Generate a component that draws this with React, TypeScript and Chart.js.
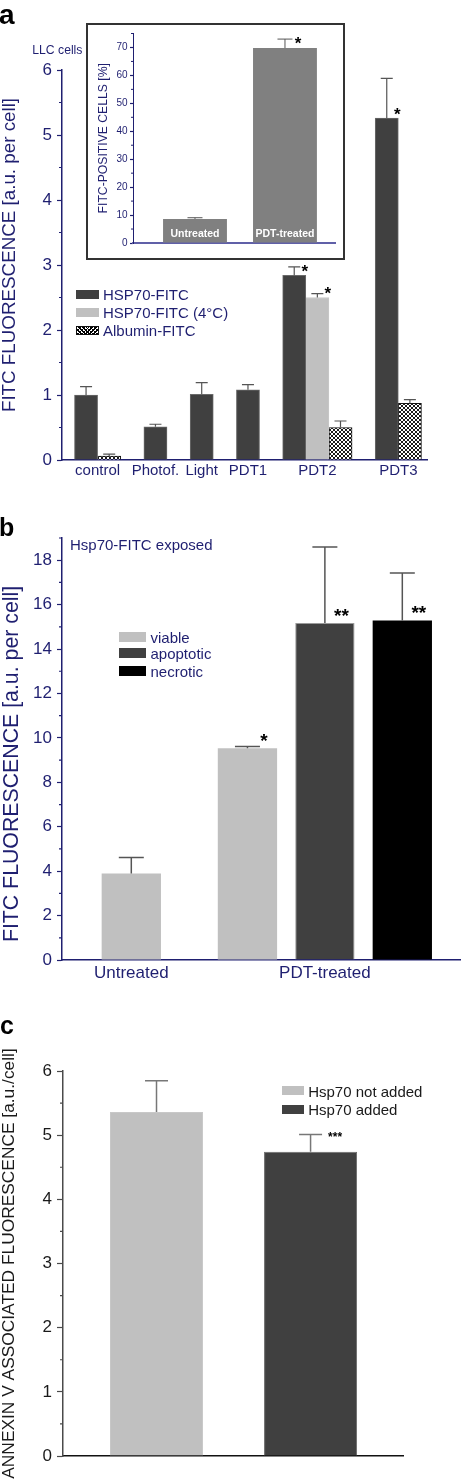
import React, { useEffect, useRef } from 'react';
import { Chart, registerables } from 'chart.js';

Chart.register(...registerables);

const FONT = "'Liberation Sans', Arial, Helvetica, sans-serif";
const NAVY = '#1f1f70';
const INK = '#1a1a1a';

type Num = number | null;

// ---------- Panel a : LLC cells ----------
const categoriesA = ['control', 'Photof.', 'Light', 'PDT1', 'PDT2', 'PDT3'];
const seriesA = ['HSP70-FITC', 'HSP70-FITC (4°C)', 'Albumin-FITC'];
const hsp70A: Num[] = [1.0, 0.51, 1.01, 1.08, 2.84, 5.26];
const hsp70ErrA: Num[] = [0.13, 0.04, 0.18, 0.08, 0.13, 0.61];
const hsp70SigA = ['', '', '', '', '*', '*'];
const hsp70ColdA: Num[] = [null, null, null, null, 2.5, null];
const hsp70ColdErrA: Num[] = [null, null, null, null, 0.06, null];
const hsp70ColdSigA = ['', '', '', '', '*', ''];
const albuminA: Num[] = [0.06, null, null, null, 0.5, 0.87];
const albuminErrA: Num[] = [0.03, null, null, null, 0.1, 0.06];
const albuminSigA = ['', '', '', '', '', ''];
const yTitleA = 'FITC FLUORESCENCE [a.u. per cell]';

// ---------- Inset : FITC-positive cells ----------
const insetCategories = ['Untreated', 'PDT-treated'];
const insetValues: Num[] = [8.6, 69.8];
const insetErr: Num[] = [0.45, 3.2];
const insetSig = ['', '*'];

// ---------- Panel b : Hsp70-FITC exposed ----------
const categoriesB = ['Untreated', 'PDT-treated'];
const seriesB = ['viable', 'apoptotic', 'necrotic'];
const viableB: Num[] = [3.9, 9.53];
const viableErrB: Num[] = [0.71, 0.08];
const viableSigB = ['', '*'];
const apoptoticB: Num[] = [null, 15.17];
const apoptoticErrB: Num[] = [null, 3.42];
const apoptoticSigB = ['', '**'];
const necroticB: Num[] = [null, 15.29];
const necroticErrB: Num[] = [null, 2.13];
const necroticSigB = ['', '**'];
const yTitleB = 'FITC FLUORESCENCE [a.u. per cell]';

// ---------- Panel c : Annexin V ----------
const categoriesC = ['Hsp70 not added', 'Hsp70 added'];
const valuesC: Num[] = [5.36, 4.74];
const errC: Num[] = [0.49, 0.27];
const sigC = ['', '***'];

// ---------- helpers ----------
function slotLayout(series: Num[][], nCat: number, gap: number) {
  const pos: Num[][] = series.map(() => []);
  const centers: number[] = [];
  let p = 0;
  for (let i = 0; i < nCat; i++) {
    const used: number[] = [];
    series.forEach((s, k) => {
      if (s[i] != null) {
        pos[k][i] = p;
        used.push(p);
        p += 1;
      } else pos[k][i] = null;
    });
    centers.push(used.reduce((a, b) => a + b, 0) / Math.max(used.length, 1));
    p += gap;
  }
  return { pos, centers };
}

function barSet(label: string, values: Num[], errs: Num[], sigs: string[], pos: Num[], style: any) {
  const data: { x: number; y: number }[] = [];
  const errors: Num[] = [];
  const sig: string[] = [];
  values.forEach((v, i) => {
    const p = pos[i];
    if (v == null || p == null) return;
    data.push({ x: p, y: v });
    errors.push(errs[i]);
    sig.push(sigs[i] || '');
  });
  return { label, data, errors, sig, grouped: false, categoryPercentage: 1, ...style };
}

function errorBars(cfg: { color: string; width: number; cap: number; sigSize: number; sigDx: number; sigDy: number }) {
  return {
    id: 'errorBars',
    afterDatasetsDraw(chart: any) {
      const ctx = chart.ctx;
      const ys = chart.scales.y;
      chart.data.datasets.forEach((ds: any, di: number) => {
        const meta = chart.getDatasetMeta(di);
        meta.data.forEach((el: any, i: number) => {
          const pt = ds.data[i];
          const e = ds.errors ? ds.errors[i] : null;
          ctx.save();
          if (e != null && e > 0) {
            const top = ys.getPixelForValue(pt.y + e);
            const x = el.x;
            ctx.strokeStyle = cfg.color;
            ctx.lineWidth = cfg.width;
            ctx.beginPath();
            ctx.moveTo(x, el.y);
            ctx.lineTo(x, top);
            ctx.moveTo(x - cfg.cap / 2, top);
            ctx.lineTo(x + cfg.cap / 2, top);
            ctx.stroke();
          }
          const s = ds.sig ? ds.sig[i] : '';
          if (s) {
            ctx.fillStyle = '#000';
            ctx.font = `bold ${cfg.sigSize}px ${FONT}`;
            ctx.textAlign = 'center';
            ctx.textBaseline = 'alphabetic';
            ctx.fillText(s, el.x + cfg.sigDx, el.y - cfg.sigDy + 0.56 * cfg.sigSize);
          }
          ctx.restore();
        });
      });
    },
  };
}

function minorTicks(step: number, major: number, len: number, color: string, width: number) {
  return {
    id: 'minorTicks',
    afterDraw(chart: any) {
      const s = chart.scales.y;
      const ctx = chart.ctx;
      ctx.save();
      ctx.strokeStyle = color;
      ctx.lineWidth = width;
      ctx.beginPath();
      const n = Math.round((s.max - s.min) / step);
      for (let k = 0; k <= n; k++) {
        const v = s.min + k * step;
        const r = v / major;
        if (Math.abs(r - Math.round(r)) < 1e-6) continue;
        const y = s.getPixelForValue(v);
        ctx.moveTo(s.right - len, y);
        ctx.lineTo(s.right, y);
      }
      ctx.stroke();
      ctx.restore();
    },
  };
}

function barLabels(labels: string[], size: number, lift: number) {
  return {
    id: 'barLabels',
    afterDatasetsDraw(chart: any) {
      const ctx = chart.ctx;
      const meta = chart.getDatasetMeta(0);
      const y0 = chart.scales.y.getPixelForValue(0);
      ctx.save();
      ctx.fillStyle = '#ffffff';
      ctx.font = `bold ${size}px ${FONT}`;
      ctx.textAlign = 'center';
      ctx.textBaseline = 'middle';
      meta.data.forEach((el: any, i: number) => ctx.fillText(labels[i], el.x, y0 - lift));
      ctx.restore();
    },
  };
}

function crossHatch(): any {
  const c = document.createElement('canvas');
  c.width = 8;
  c.height = 8;
  const g = c.getContext('2d');
  if (!g) return '#fff';
  g.fillStyle = '#fff';
  g.fillRect(0, 0, 8, 8);
  g.strokeStyle = '#000';
  g.lineWidth = 0.9;
  g.beginPath();
  for (let k = -8; k <= 8; k += 4) {
    g.moveTo(k, 0);
    g.lineTo(k + 8, 8);
    g.moveTo(k, 8);
    g.lineTo(k + 8, 0);
  }
  g.stroke();
  return g.createPattern(c, 'repeat') || '#fff';
}

function yAxis(o: any) {
  return {
    min: o.min,
    max: o.max,
    afterFit: (s: any) => {
      s.width = o.width;
    },
    ticks: {
      stepSize: o.step,
      includeBounds: false,
      color: o.tickColor || o.color,
      font: { family: FONT, size: o.tickSize },
      padding: o.pad,
    },
    grid: {
      display: true,
      drawOnChartArea: false,
      drawTicks: true,
      tickLength: o.tickLen,
      color: o.color,
      tickColor: o.color,
      tickWidth: 1.2,
    },
    border: { color: o.color, width: o.borderWidth },
    title: {
      display: !!o.title,
      text: o.title || '',
      color: o.titleColor,
      font: { family: FONT, size: o.titleSize || 12, lineHeight: o.titleLH || 1.2 },
      padding: { top: o.titlePad || 0, bottom: 0 },
    },
  };
}

function xAxis(o: any) {
  return {
    type: 'linear',
    min: o.min,
    max: o.max,
    bounds: 'data',
    offset: false,
    afterBuildTicks: (s: any) => {
      s.ticks = o.centers.map((v: number) => ({ value: v }));
    },
    afterFit: (s: any) => {
      s.height = o.height;
    },
    ticks: {
      display: o.labels != null,
      autoSkip: false,
      maxRotation: 0,
      minRotation: 0,
      color: o.color,
      font: { family: FONT, size: o.tickSize || 12 },
      padding: o.pad || 0,
      callback: (_v: any, i: number) => (o.labels ? o.labels[i] : ''),
    },
    grid: { display: false, drawTicks: false },
    border: { color: o.borderColor, width: o.borderWidth },
  };
}

const baseOpts = {
  responsive: false,
  animation: false,
  events: [],
  plugins: { legend: { display: false }, tooltip: { enabled: false } },
};

function Txt(p: { x: number; cy: number; size: number; color: string; bold?: boolean; children: any }) {
  return (
    <div
      style={{
        position: 'absolute',
        left: p.x,
        top: p.cy,
        transform: 'translateY(-50%)',
        fontFamily: FONT,
        fontSize: p.size,
        fontWeight: p.bold ? 'bold' : 'normal',
        lineHeight: 1,
        color: p.color,
        whiteSpace: 'nowrap',
      }}
    >
      {p.children}
    </div>
  );
}

function VTxt(p: { cx: number; cy: number; size: number; color: string; children: any }) {
  return (
    <div
      style={{
        position: 'absolute',
        left: p.cx,
        top: p.cy,
        transform: 'translate(-50%, -50%) rotate(-90deg)',
        fontFamily: FONT,
        fontSize: p.size,
        lineHeight: 1,
        color: p.color,
        whiteSpace: 'nowrap',
      }}
    >
      {p.children}
    </div>
  );
}

function Swatch(p: { x: number; cy: number; w: number; h: number; bg: string; border?: string }) {
  return (
    <div
      style={{
        position: 'absolute',
        left: p.x,
        top: p.cy - p.h / 2,
        width: p.w,
        height: p.h,
        background: p.bg,
        border: p.border || 'none',
        boxSizing: 'border-box',
      }}
    />
  );
}

const HATCH_CSS =
  'repeating-linear-gradient(45deg, #000 0 0.8px, transparent 0.8px 2.8px), repeating-linear-gradient(-45deg, #000 0 0.8px, #fff 0.8px 2.8px)';

export default function App() {
  const refA = useRef<HTMLCanvasElement>(null);
  const refInset = useRef<HTMLCanvasElement>(null);
  const refB = useRef<HTMLCanvasElement>(null);
  const refC = useRef<HTMLCanvasElement>(null);

  useEffect(() => {
    const charts: Chart[] = [];
    const hatch = crossHatch();

    // ----- panel a -----
    const la = slotLayout([hsp70A, hsp70ColdA, albuminA], categoriesA.length, 1);
    charts.push(
      new Chart(refA.current as HTMLCanvasElement, {
        type: 'bar',
        data: {
          datasets: [
            barSet(seriesA[0], hsp70A, hsp70ErrA, hsp70SigA, la.pos[0], {
              backgroundColor: '#404040', borderColor: '#6a6a6a', borderWidth: 1, barPercentage: 1,
            }),
            barSet(seriesA[1], hsp70ColdA, hsp70ColdErrA, hsp70ColdSigA, la.pos[1], {
              backgroundColor: '#c0c0c0', borderColor: '#c8c8c8', borderWidth: 1, barPercentage: 1,
            }),
            barSet(seriesA[2], albuminA, albuminErrA, albuminSigA, la.pos[2], {
              backgroundColor: hatch, borderColor: '#111', borderWidth: 1, barPercentage: 1,
            }),
          ],
        } as any,
        options: {
          ...baseOpts,
          layout: { padding: { top: 70, right: 35, left: 0, bottom: 0 } },
          scales: {
            x: xAxis({ min: -1.04, max: 14.74, centers: la.centers, height: 30, labels: categoriesA, color: NAVY, tickSize: 15, pad: 2, borderColor: NAVY, borderWidth: 1.5 }),
            y: yAxis({ min: 0, max: 6, step: 1, width: 62, color: NAVY, tickSize: 17, pad: 5, tickLen: 5, borderWidth: 1.5 }),
          },
        } as any,
        plugins: [
          minorTicks(0.5, 1, 3, NAVY, 1.2),
          errorBars({ color: '#555', width: 1.2, cap: 12, sigSize: 17, sigDx: 10.5, sigDy: 8 }),
        ],
      })
    );

    // ----- inset -----
    const li = slotLayout([insetValues], insetCategories.length, 0);
    charts.push(
      new Chart(refInset.current as HTMLCanvasElement, {
        type: 'bar',
        data: {
          datasets: [
            barSet('FITC-positive cells', insetValues, insetErr, insetSig, li.pos[0], {
              backgroundColor: '#808080', borderWidth: 0, barPercentage: 0.71,
            }),
          ],
        } as any,
        options: {
          ...baseOpts,
          layout: { padding: { top: 8, right: 8, left: 0, bottom: 0 } },
          scales: {
            x: xAxis({ min: -0.689, max: 1.556, centers: li.centers, height: 15, labels: null, borderColor: '#6060a8', borderWidth: 2 }),
            y: yAxis({ min: 0, max: 75, step: 10, width: 45, color: NAVY, tickSize: 10, pad: 2.5, tickLen: 3, borderWidth: 1, title: 'FITC-POSITIVE CELLS [%]', titleColor: NAVY, titleSize: 12.2, titleLH: 1.2, titlePad: 8.6 }),
          },
        } as any,
        plugins: [
          minorTicks(5, 10, 2, NAVY, 1),
          errorBars({ color: '#555', width: 1, cap: 15, sigSize: 17, sigDx: 13, sigDy: 9 }),
          barLabels(insetCategories, 10.5, 8.5),
        ],
      })
    );

    // ----- panel b -----
    const lb = slotLayout([viableB, apoptoticB, necroticB], categoriesB.length, 0.5);
    charts.push(
      new Chart(refB.current as HTMLCanvasElement, {
        type: 'bar',
        data: {
          datasets: [
            barSet(seriesB[0], viableB, viableErrB, viableSigB, lb.pos[0], {
              backgroundColor: '#c0c0c0', borderWidth: 0, barPercentage: 0.766,
            }),
            barSet(seriesB[1], apoptoticB, apoptoticErrB, apoptoticSigB, lb.pos[1], {
              backgroundColor: '#404040', borderColor: '#9a9a9a', borderWidth: 1, barPercentage: 0.766,
            }),
            barSet(seriesB[2], necroticB, necroticErrB, necroticSigB, lb.pos[2], {
              backgroundColor: '#000000', borderWidth: 0, barPercentage: 0.766,
            }),
          ],
        } as any,
        options: {
          ...baseOpts,
          layout: { padding: { top: 48, right: 2, left: 0, bottom: 0 } },
          scales: {
            x: xAxis({ min: -0.895, max: 4.245, centers: lb.centers, height: 40, labels: categoriesB, color: NAVY, tickSize: 17, pad: 3, borderColor: NAVY, borderWidth: 1.5 }),
            y: yAxis({ min: 0, max: 19, step: 2, width: 62, color: NAVY, tickSize: 17, pad: 5, tickLen: 5, borderWidth: 1.5 }),
          },
        } as any,
        plugins: [
          minorTicks(1, 2, 3, NAVY, 1.2),
          errorBars({ color: '#555', width: 1.5, cap: 25, sigSize: 19, sigDx: 16.5, sigDy: 12 }),
        ],
      })
    );

    // ----- panel c -----
    const lc = slotLayout([valuesC], categoriesC.length, 0);
    charts.push(
      new Chart(refC.current as HTMLCanvasElement, {
        type: 'bar',
        data: {
          datasets: [
            barSet('Annexin V', valuesC, errC, sigC, lc.pos[0], {
              backgroundColor: ['#c0c0c0', '#404040'], borderColor: ['#c8c8c8', '#6a6a6a'], borderWidth: 1, barPercentage: 0.604,
            }),
          ],
        } as any,
        options: {
          ...baseOpts,
          layout: { padding: { top: 71, right: 59, left: 0, bottom: 0 } },
          scales: {
            x: xAxis({ min: -0.607, max: 1.6, centers: lc.centers, height: 27, labels: null, borderColor: '#111', borderWidth: 1.5 }),
            y: yAxis({ min: 0, max: 6, step: 1, width: 63, color: '#4a4a4a', tickColor: INK, tickSize: 17, pad: 5, tickLen: 6, borderWidth: 1.5, title: 'ANNEXIN V ASSOCIATED FLUORESCENCE [a.u./cell]', titleColor: INK, titleSize: 17.35, titleLH: 1.12, titlePad: 0 }),
          },
        } as any,
        plugins: [
          minorTicks(0.5, 1, 3, '#4a4a4a', 1.2),
          errorBars({ color: '#777', width: 1.5, cap: 23, sigSize: 12, sigDx: 24.5, sigDy: 17.5 }),
        ],
      })
    );

    return () => charts.forEach((ch) => ch.destroy());
  }, []);

  return (
    <div style={{ position: 'absolute', left: 0, top: 0, width: 462, height: 1483, background: '#fff', overflow: 'hidden' }}>
      {/* panel a */}
      <canvas ref={refA} width={462} height={490} style={{ position: 'absolute', left: 0, top: 0 }} />
      <VTxt cx={9.0} cy={255} size={18.8} color={NAVY}>{yTitleA}</VTxt>
      <Txt x={-1} cy={14.8} size={28} color="#000" bold>a</Txt>
      <Txt x={32.3} cy={50} size={12.2} color={NAVY}>LLC cells</Txt>
      <div style={{ position: 'absolute', left: 86, top: 23, width: 259, height: 237, border: '2px solid #333', boxSizing: 'border-box', background: '#fff' }}>
        <canvas ref={refInset} width={255} height={233} style={{ position: 'absolute', left: 0, top: 0 }} />
      </div>
      <Swatch x={76} cy={294} w={23} h={9} bg="#404040" />
      <Txt x={103} cy={294} size={15} color={NAVY}>{seriesA[0]}</Txt>
      <Swatch x={76} cy={312} w={23} h={9} bg="#c0c0c0" />
      <Txt x={103} cy={312} size={15} color={NAVY}>{seriesA[1]}</Txt>
      <Swatch x={76} cy={330} w={23} h={9} bg={HATCH_CSS} border="1px solid #111" />
      <Txt x={103} cy={330} size={15} color={NAVY}>{seriesA[2]}</Txt>

      {/* panel b */}
      <canvas ref={refB} width={462} height={510} style={{ position: 'absolute', left: 0, top: 490 }} />
      <VTxt cx={11.7} cy={763.5} size={21.3} color={NAVY}>{yTitleB}</VTxt>
      <Txt x={-1} cy={527.2} size={25} color="#000" bold>b</Txt>
      <Txt x={70} cy={544} size={15} color={NAVY}>Hsp70-FITC exposed</Txt>
      <Swatch x={119} cy={636.7} w={27} h={10} bg="#c0c0c0" />
      <Txt x={150.5} cy={636.7} size={15} color={NAVY}>{seriesB[0]}</Txt>
      <Swatch x={119} cy={653.3} w={27} h={10} bg="#404040" />
      <Txt x={150.5} cy={653.3} size={15} color={NAVY}>{seriesB[1]}</Txt>
      <Swatch x={119} cy={670.7} w={27} h={10} bg="#000000" />
      <Txt x={150.5} cy={670.7} size={15} color={NAVY}>{seriesB[2]}</Txt>

      {/* panel c */}
      <canvas ref={refC} width={462} height={483} style={{ position: 'absolute', left: 0, top: 1000 }} />
      <Txt x={0} cy={1024.6} size={25} color="#000" bold>c</Txt>
      <Swatch x={282} cy={1090.7} w={22} h={9} bg="#c0c0c0" />
      <Txt x={308.2} cy={1090.7} size={15} color={INK}>{categoriesC[0]}</Txt>
      <Swatch x={282} cy={1109.3} w={22} h={9} bg="#404040" />
      <Txt x={308.2} cy={1109.3} size={15} color={INK}>{categoriesC[1]}</Txt>
    </div>
  );
}
